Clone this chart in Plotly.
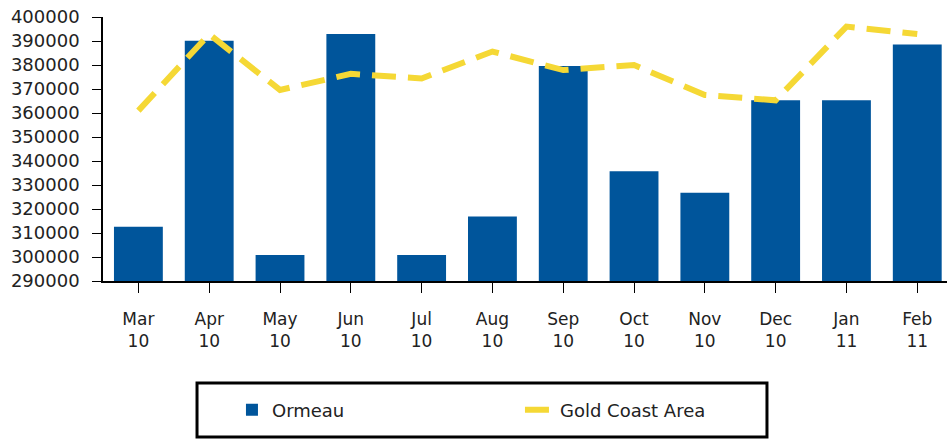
import plotly.graph_objects as go

months = ["Mar<br>10", "Apr<br>10", "May<br>10", "Jun<br>10", "Jul<br>10", "Aug<br>10",
          "Sep<br>10", "Oct<br>10", "Nov<br>10", "Dec<br>10", "Jan<br>11", "Feb<br>11"]
ormeau = [312600, 390100, 300800, 392900, 300800, 316900,
          379600, 335700, 326800, 365300, 365300, 388500]
gold_coast = [361000, 392800, 369600, 376300, 374400, 385600,
              377900, 380000, 367500, 365300, 396000, 392900]
y_ticks = list(range(290000, 400001, 10000))

FONT = "DejaVu Sans, Verdana, sans-serif"

fig = go.Figure()
fig.add_trace(go.Bar(x=list(range(12)), y=ormeau, name="Ormeau",
                     marker=dict(color="#00559B", line=dict(width=0))))
fig.add_trace(go.Scatter(x=list(range(12)), y=gold_coast, name="Gold Coast Area", mode="lines",
                         line=dict(color="#F5D835", width=6, dash="24px,12px")))

fig.update_layout(
    width=947, height=441,
    margin=dict(l=103, r=0, t=17, b=160, autoexpand=False),
    plot_bgcolor="white", paper_bgcolor="white",
    bargap=0.31,
    font=dict(family=FONT, size=18, color="#222"),
    showlegend=True,
    legend=dict(orientation="h", x=0.1528, xanchor="left", y=-0.4886, yanchor="middle",
                borderwidth=0, font=dict(size=18, color="#222"),
                entrywidth=243, itemwidth=30, bgcolor="rgba(0,0,0,0)"),
    shapes=[dict(type="rect", xref="paper", yref="paper",
                 x0=0.1114, x1=0.7867, y0=-0.5909, y1=-0.3864,
                 line=dict(color="black", width=3), fillcolor="rgba(0,0,0,0)", layer="below")],
)
fig.update_xaxes(
    tickmode="array", tickvals=list(range(12)), ticktext=months,
    range=[-0.5, 11.42], showline=True, linecolor="black", linewidth=1.5,
    ticks="outside", ticklen=10, tickcolor="black", showgrid=False, zeroline=False,
    tickfont=dict(size=17), automargin=False, ticklabelstandoff=12,
)
fig.update_yaxes(
    range=[290000, 400000], tickvals=y_ticks, tickformat="d",
    showline=True, linecolor="black", linewidth=1.5,
    ticks="outside", ticklen=9, tickcolor="black", showgrid=False, zeroline=False,
    tickfont=dict(size=18), automargin=False, ticklabelstandoff=9,
)

fig.write_html("out.html", config={"displayModeBar": False},
               post_script="document.body.style.margin='0';document.body.style.overflow='hidden';")
